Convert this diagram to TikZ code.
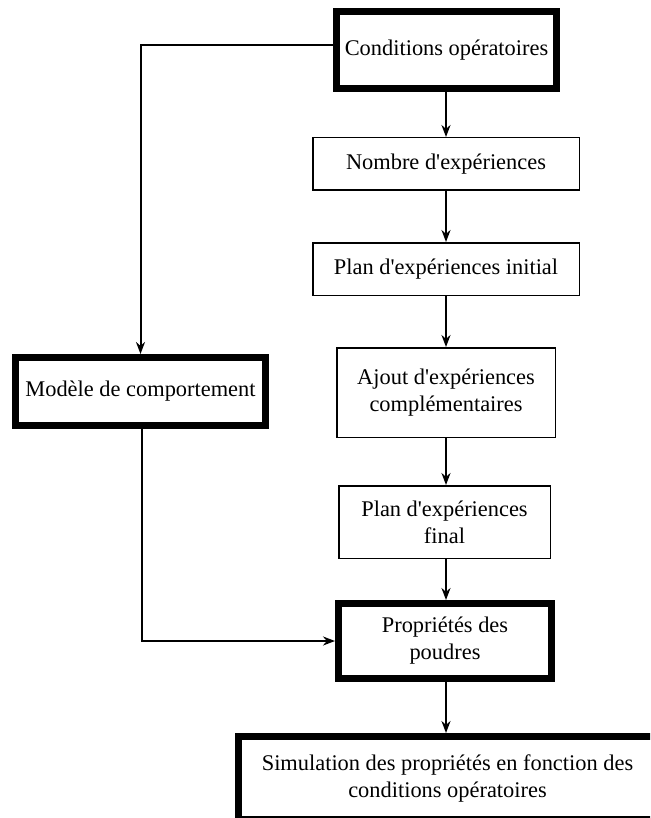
\documentclass[tikz,border=0pt]{standalone}
\usepackage{fontspec}
\setmainfont{Liberation Serif}
\usetikzlibrary{arrows.meta, positioning}

\newcommand{\apos}{\textquotesingle}

\begin{document}
\begin{tikzpicture}[
  x=1pt, y=-1pt,
  >={Stealth[length=12pt, width=9pt]},
  thinbox/.style={
    draw, line width=1.5pt, fill=white, align=center, inner sep=0pt,
    font=\fontsize{22.4}{27}\selectfont
  },
  thickbox/.style={thinbox, line width=7pt},
  arr/.style={->, line width=2pt},
]

% Page
\useasboundingbox (0,0) rectangle (650,818);
\clip (0,0) rectangle (650,818);
\fill[white] (0,0) rectangle (650,818);

% =============================================
% Main column
% =============================================
\node[thickbox, minimum width=220pt, minimum height=77pt] (cond) at (446.5,50)
  {Conditions opératoires};

\node[thinbox, minimum width=266.5pt, minimum height=52.5pt] (nombre) at (446,164)
  {Nombre d\apos expériences};

\node[thinbox, minimum width=266.5pt, minimum height=52.5pt] (initial) at (446,269)
  {Plan d\apos expériences initial};

\node[thinbox, minimum width=218.5pt, minimum height=89.5pt] (ajout) at (446,392.5)
  {Ajout d\apos expériences\\complémentaires};

\node[thinbox, minimum width=211.5pt, minimum height=72.5pt] (final) at (444.5,522)
  {Plan d\apos expériences\\final};

\node[thickbox, minimum width=213pt, minimum height=75pt] (prop) at (445,641)
  {Propriétés des\\poudres};

\node[thickbox, minimum width=418pt, minimum height=83pt] (simul) at (447.5,778)
  {Simulation des propriétés en fonction des\\conditions opératoires};

% =============================================
% Side branch
% =============================================
\node[thickbox, minimum width=250pt, minimum height=68pt] (modele) at (140.5,391.5)
  {Modèle de comportement};

% Connectors
\draw[arr] (cond.south -| 446,0) -- (nombre.north -| 446,0);
\draw[arr] (nombre.south -| 446,0) -- (initial.north -| 446,0);
\draw[arr] (initial.south -| 446,0) -- (ajout.north -| 446,0);
\draw[arr] (ajout.south -| 446,0) -- (final.north -| 446,0);
\draw[arr] (final.south -| 446,0) -- (prop.north -| 446,0);
\draw[arr] (prop.south -| 446,0) -- (simul.north -| 446,0);

\draw[arr] ([yshift=5pt]cond.west) -| (modele.north);
\draw[arr] ([xshift=1.5pt]modele.south) |- (prop.west);

\end{tikzpicture}
\end{document}
